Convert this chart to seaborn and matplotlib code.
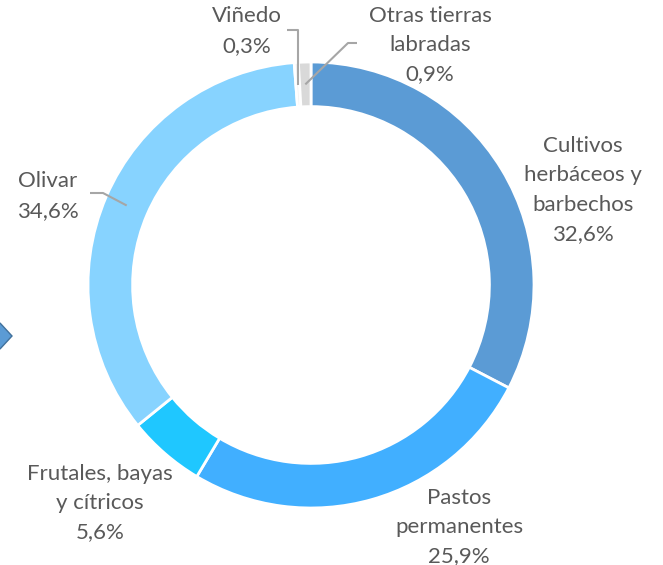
import numpy as np
import matplotlib
matplotlib.use("Agg")
import matplotlib.pyplot as plt
import seaborn as sns
from matplotlib.patches import Polygon

sns.set_theme(style="white")
plt.rcParams["font.family"] = ["Lato", "DejaVu Sans"]

# data (clockwise from the top)
labels = ["Cultivos\nherbáceos y\nbarbechos", "Pastos\npermanentes", "Frutales, bayas\ny cítricos",
          "Olivar", "Viñedo", "Otras tierras\nlabradas"]
values = [32.6, 25.9, 5.6, 34.6, 0.3, 0.9]
pct_text = ["32,6%", "25,9%", "5,6%", "34,6%", "0,3%", "0,9%"]
colors = ["#5B9BD5", "#41AFFF", "#1FC7FF", "#87D3FF", "#F2F2F2", "#D9D9D9"]

# layout in pixel coords (y measured from the top)
W, H = 663, 565
cx, cy, R = 311, 285, 223
label_pos = [(583, 190), (459, 527), (100, 503), (48, 196), (247, 31), (430, 45)]
# leader polylines: label side points, last point is on the ring (computed)
leader_start = {3: [(90, 193), (103, 193)], 4: [(287, 30), (298, 30)], 5: [(357, 43), (348, 43)]}

fig = plt.figure(figsize=(W / 100, H / 100), dpi=100)
ax = fig.add_axes([0, 0, 1, 1])

ax.pie(values, colors=colors, startangle=90, counterclock=False,
       center=(cx, H - cy), radius=R,
       wedgeprops=dict(width=R * 0.2, edgecolor="white", linewidth=2))
ax.set_xlim(0, W)
ax.set_ylim(0, H)
ax.axis("off")

txt_color = "#595959"
for lab, pct, (x, y) in zip(labels, pct_text, label_pos):
    ax.text(x, H - y, lab + "\n" + pct, ha="center", va="center",
            fontsize=16, color=txt_color, linespacing=1.58)

# leader lines to wedge mid points
frac = np.array(values) / sum(values)
ends = np.cumsum(frac)
starts = ends - frac
for i, pts in leader_start.items():
    mid = (starts[i] + ends[i]) / 2
    ang = np.deg2rad(90 - mid * 360)
    r = R * 0.9
    px, py = cx + r * np.cos(ang), cy - r * np.sin(ang)
    xs = [p[0] for p in pts] + [px]
    ys = [H - p[1] for p in pts] + [H - py]
    if i == 4:
        xs[-2] = px
    ax.plot(xs, ys, color="#A6A6A6", linewidth=1.5, solid_capstyle="butt")

# clipped arrow marker at the left edge
ax.add_patch(Polygon([(-13, H - 336), (0, H - 323), (12, H - 336), (0, H - 349)],
                     closed=True, facecolor="#5B9BD5", edgecolor="#41719C", linewidth=1))

fig.savefig("out.png", dpi=100)
